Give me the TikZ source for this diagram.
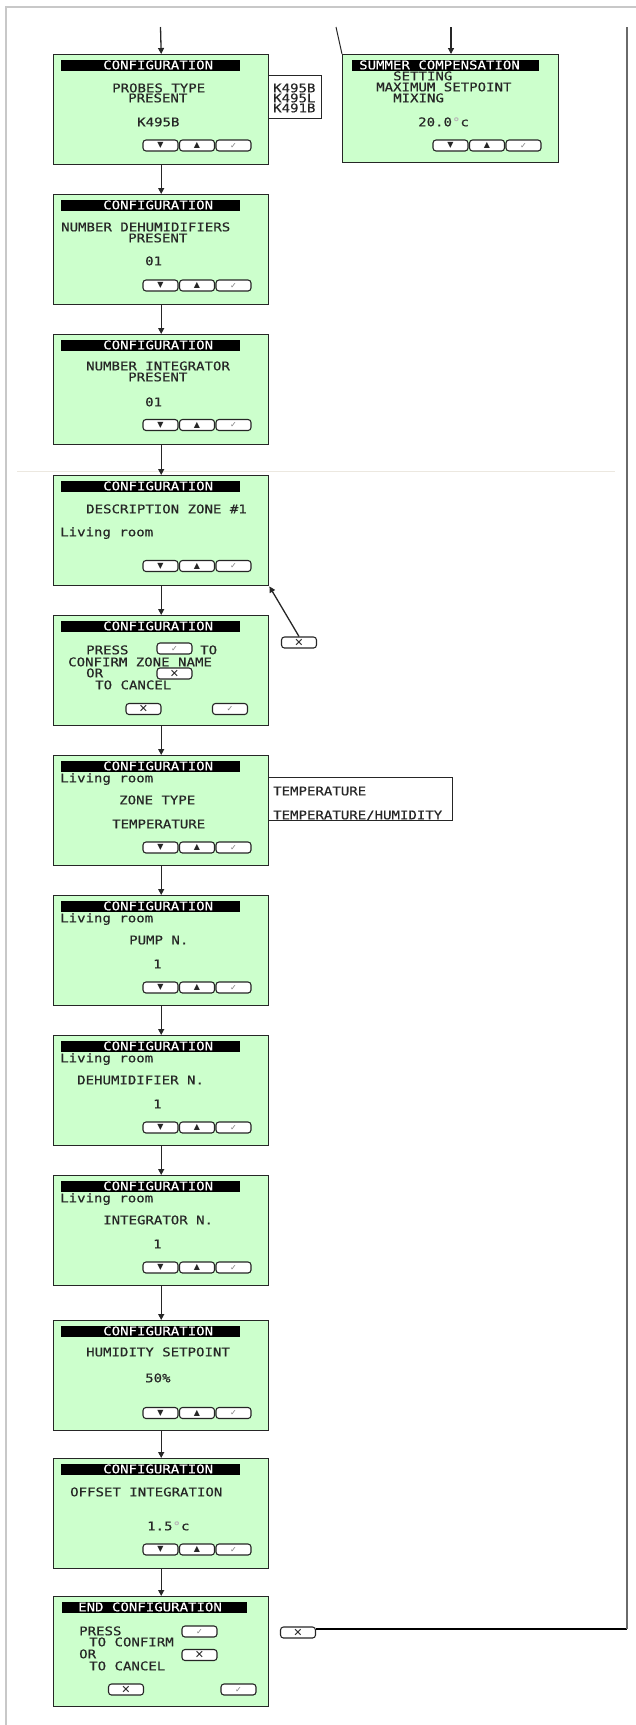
\documentclass[tikz,border=0pt]{standalone}
\usepackage{fontspec}
\usetikzlibrary{arrows.meta}
\newfontfamily\lcdfont[FakeStretch=1.17,FakeBold=0.4]{DejaVu Sans Mono}
\newfontfamily\symfont{DejaVu Sans}
\definecolor{lcdgreen}{HTML}{CCFFCC}
\definecolor{ink}{HTML}{262626}
\definecolor{framegray}{HTML}{C8C8C8}
\definecolor{rline}{HTML}{6A6A6A}
\definecolor{faint}{HTML}{ECE8E0}
\tikzset{
 screen/.style={draw=ink, fill=lcdgreen, line width=1.4pt, minimum width=215pt, minimum height=110pt, inner sep=0pt, anchor=north west},
 titlebar/.style={fill=black, minimum height=11pt, inner sep=0pt, anchor=north west},
 lt/.style={font=\lcdfont\fontsize{12}{12}\selectfont, text=ink, inner sep=0pt, anchor=base west, yshift=-4.3pt},
 tt/.style={lt, text=white},
 btn/.style={draw=ink, fill=white, rounded corners=3pt, line width=1.1pt, minimum width=35pt, minimum height=11pt, inner sep=0pt, font=\symfont\fontsize{8}{8}\selectfont, text=ink},
 sidebox/.style={draw=ink, fill=white, line width=1pt, inner sep=0pt, anchor=north west},
 flow/.style={draw=ink, line width=1.3pt, -{Triangle[width=6pt,length=6pt]}},
}
\newcommand\cfgbox[2]{%
 \node[screen] (#1) at (53,#2) {};
 \node[titlebar, minimum width=179pt] (#1bar) at (61,{#2+5.5}) {};
 \node[tt] (#1ttl) at (103,{#2+11}) {CONFIGURATION};
}
\newcommand\trio[3]{%
 \node[btn] (#1d) at ({#2+17.5},#3) {▼};
 \node[btn] (#1u) at ({#2+54},#3) {▲};
 \node[btn] (#1c) at ({#2+90.5},#3) {\color{gray}✓};
}
\newcommand\lcddeg{{\color{gray!55}°}}
\newcommand\xsym{{\fontsize{11}{11}\selectfont ✕}}
\begin{document}
\begin{tikzpicture}[x=1pt,y=-1pt]
\useasboundingbox (0,0) rectangle (636,1725);
% frame
\draw[framegray, line width=1.5pt] (6,1725) -- (6,7) -- (636,7);
\draw[faint, line width=1pt] (17,471) -- (615,471);

% side boxes
\node[sidebox, minimum width=53pt, minimum height=43pt] (probes) at (268,75) {};
\node[lt] (p1) at (273,88) {K495B};
\node[lt] (p2) at (273,98) {K495L};
\node[lt] (p3) at (273,108) {K491B};
\node[sidebox, minimum width=184pt, minimum height=43pt] (ztype) at (268,777) {};
\node[lt] (z1) at (273,791) {TEMPERATURE};
\node[lt] (z2) at (273,815) {TEMPERATURE/HUMIDITY};

% box 1
\cfgbox{b1}{54}
\node[lt] (b1a) at (112,88) {PROBES TYPE};
\node[lt] (b1b) at (128,98) {PRESENT};
\node[lt] (b1v) at (137,122) {K495B};
\trio{b1k}{143}{145.5}

% summer box
\node[screen, minimum width=216pt, minimum height=108pt] (sum) at (342,54) {};
\node[titlebar, minimum width=187pt] (sumbar) at (352,59.5) {};
\node[tt] (sumttl) at (359,65) {SUMMER COMPENSATION};
\node[lt] (sa) at (393,76) {SETTING};
\node[lt] (sb) at (376,87) {MAXIMUM SETPOINT};
\node[lt] (sc) at (393,98) {MIXING};
\node[lt] (sv) at (418,122) {20.0\lcddeg c};
\trio{sk}{433}{145.5}

% box 2
\cfgbox{b2}{194}
\node[lt] (b2a) at (61,227) {NUMBER DEHUMIDIFIERS};
\node[lt] (b2b) at (128,238) {PRESENT};
\node[lt] (b2v) at (145,261) {01};
\trio{b2k}{143}{285.5}

% box 3
\cfgbox{b3}{334}
\node[lt] (b3a) at (86,366) {NUMBER INTEGRATOR};
\node[lt] (b3b) at (128,377) {PRESENT};
\node[lt] (b3v) at (145,402) {01};
\trio{b3k}{143}{425}

% box 4
\cfgbox{b4}{475}
\node[lt] (b4a) at (86,509) {DESCRIPTION ZONE \#1};
\node[lt] (b4b) at (60,532) {Living room};
\trio{b4k}{143}{566}

% box 5
\cfgbox{b5}{615}
\node[lt] (b5a) at (86,650) {PRESS};
\node[btn] (b5ok) at (174.5,648.5) {\color{gray}✓};
\node[lt] (b5b) at (200,650) {TO};
\node[lt] (b5c) at (68,662) {CONFIRM ZONE NAME};
\node[lt] (b5d) at (86,673) {OR};
\node[btn] (b5no) at (174.5,673.5) {\xsym};
\node[lt] (b5e) at (95,685) {TO CANCEL};
\node[btn] (b5x) at (143.5,709) {\xsym};
\node[btn] (b5v) at (230,709) {\color{gray}✓};

% box 6
\cfgbox{b6}{755}
\node[lt] (b6l) at (60,778) {Living room};
\node[lt] (b6a) at (119,800) {ZONE TYPE};
\node[lt] (b6v) at (112,824) {TEMPERATURE};
\trio{b6k}{143}{847.5}

% box 7
\cfgbox{b7}{895}
\node[lt] (b7l) at (60,918) {Living room};
\node[lt] (b7a) at (129,940) {PUMP N.};
\node[lt] (b7v) at (153,964) {1};
\trio{b7k}{143}{987.5}

% box 8
\cfgbox{b8}{1035}
\node[lt] (b8l) at (60,1058) {Living room};
\node[lt] (b8a) at (77,1080) {DEHUMIDIFIER N.};
\node[lt] (b8v) at (153,1104) {1};
\trio{b8k}{143}{1127.5}

% box 9
\cfgbox{b9}{1175}
\node[lt] (b9l) at (60,1198) {Living room};
\node[lt] (b9a) at (103,1220) {INTEGRATOR N.};
\node[lt] (b9v) at (153,1244) {1};
\trio{b9k}{143}{1267.5}

% box 10
\cfgbox{b10}{1320}
\node[lt] (b10a) at (86,1352) {HUMIDITY SETPOINT};
\node[lt] (b10v) at (145,1378) {50\%};
\trio{b10k}{143}{1413}

% box 11
\cfgbox{b11}{1458}
\node[lt] (b11a) at (70,1492) {OFFSET INTEGRATION};
\node[lt] (b11v) at (147,1526) {1.5\lcddeg c};
\trio{b11k}{143}{1549.5}

% box 12
\node[screen] (b12) at (53,1596) {};
\node[titlebar, minimum width=185pt] (b12bar) at (62,1601.5) {};
\node[tt] (b12ttl) at (78,1607) {END CONFIGURATION};
\node[lt] (b12a) at (79,1631) {PRESS};
\node[lt] (b12b) at (89,1642) {TO CONFIRM};
\node[lt] (b12c) at (79,1654) {OR};
\node[lt] (b12d) at (89,1666) {TO CANCEL};
\node[btn] (b12ok) at (199.5,1631.5) {\color{gray}✓};
\node[btn] (b12no) at (199.5,1655) {\xsym};
\node[btn] (b12x) at (126,1689.5) {\xsym};
\node[btn] (b12v) at (238.5,1689.5) {\color{gray}✓};

% side cancel buttons
\node[btn] (x4) at (299,642.5) {\xsym};
\node[btn] (x12) at (298,1632.5) {\xsym};

% connectors
\coordinate (in1) at (160.5,27);
\coordinate (in2) at (451,27);
\coordinate (sl) at (336,27);
\coordinate (rb) at (627,1629);
\coordinate (rt) at (627,27);
\draw[flow] (in1) -- (b1.north);
\draw[flow] (in2) -- (in2 |- sum.north);
\draw[ink, line width=1pt] (sl) -- (sum.north west);
\foreach \a/\b in {b1/b2,b2/b3,b3/b4,b4/b5,b5/b6,b6/b7,b7/b8,b8/b9,b9/b10,b10/b11,b11/b12}
  \draw[flow] (\a.south) -- (\b.north);
\draw[flow] (x4.north) -- (b4.south east);
\draw[black, line width=1.6pt] (x12.east |- rb) -- (rb);
\draw[rline, line width=1.6pt] (rb) -- (rt);
\end{tikzpicture}
\end{document}
